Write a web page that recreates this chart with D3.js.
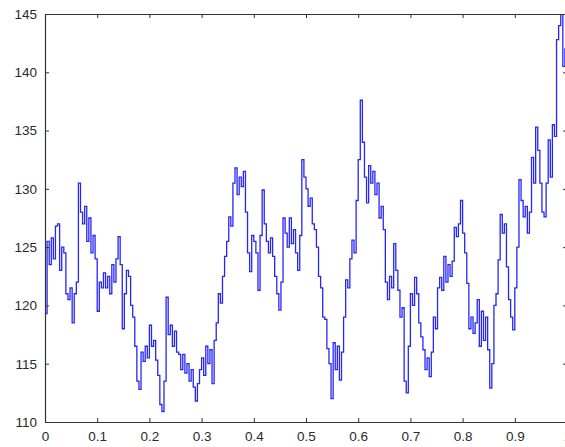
<!DOCTYPE html>
<html>
<head>
<meta charset="utf-8">
<script src="https://cdn.jsdelivr.net/npm/d3@7"></script>
<style>
  body { margin: 0; background: #fff; }
  svg { display: block; }
  .tick text { font-family: "Liberation Sans", Arial, sans-serif; font-size: 13.5px; fill: #2a2a2a; }
</style>
</head>
<body>
<svg id="chart"></svg>
<script>
// canvas and plot box
const width = 565,
      height = 447,
      margin = {top: 14, right: -2, bottom: 25, left: 45};

// axis ranges and ticks
const xDomain = [0, 1];
const yDomain = [110, 145];
const xTicks = [0, 0.1, 0.2, 0.3, 0.4, 0.5, 0.6, 0.7, 0.8, 0.9, 1];
const yTicks = [110, 115, 120, 125, 130, 135, 140, 145];

const values = [
  119.3, 125.5, 123.5, 125.8, 124, 126.8, 127, 123, 125, 124.5, 121, 120.5, 121.5, 118.5, 121, 122, 130.5, 128, 127, 128.5, 125.5, 127.5, 124.5, 126, 124,
  119.5, 122, 121.5, 122.8, 121.5, 122.5, 121, 123.5, 122, 124, 125.9, 123.5, 118, 121, 123, 122.5, 120, 119, 116.5, 113.5, 112.8, 116, 115.2, 116.5, 115.5,
  118.3, 116.5, 117, 115.3, 114, 111.5, 110.9, 113.5, 120.7, 117.5, 118.3, 116.5, 117.8, 116, 115.8, 114.5, 115.8, 114.2, 115, 113.5, 114.5, 113, 111.8, 113.3, 114.5,
  115.5, 114, 116.5, 115, 116.2, 113.3, 117, 118.5, 121, 120.2, 122.5, 124.2, 125.5, 127.6, 126.8, 130.5, 131.8, 129.5, 131, 130.2, 131.5, 128, 124.5, 122.9, 126,
  125.5, 124.5, 121.3, 126, 129.9, 127, 125.5, 124.5, 125.8, 124.2, 122.5, 121, 119.6, 122, 127.5, 126.2, 125, 127.5, 125.3, 126.5, 124.5, 123, 126, 132.5, 131,
  130, 128.5, 129.2, 127, 126.5, 125, 122.5, 121.5, 119, 118.8, 116.3, 115, 112, 116.8, 114.5, 116.5, 113.6, 116, 119, 122.2, 121.5, 124, 125.6, 124.5, 129,
  132.5, 137.6, 134, 131, 128.8, 132, 130.5, 131.5, 129.5, 130.5, 127.5, 128.5, 126.5, 122, 120.5, 122.5, 121.5, 125.3, 123, 121.3, 119, 119.8, 113.5, 112.5, 116.5,
  121, 120, 122.4, 121, 118.5, 117.3, 116.2, 114.5, 115.5, 113.9, 116, 119, 118, 121.5, 122.4, 121.3, 124.2, 122, 123.5, 122.5, 123.8, 126.7, 125.9, 127, 129,
  126.2, 124.5, 121.9, 118, 119, 117.6, 118.5, 120.5, 116.5, 119.5, 117, 119, 116.2, 112.9, 115, 120, 121, 123.9, 127.8, 126.2, 127, 123.3, 120.5, 119, 117.9,
  121.5, 125, 130.8, 129, 127.6, 128.5, 126.2, 128, 132.7, 130.5, 135.3, 133.3, 130.5, 128, 127.6, 130.5, 134.2, 131, 135.5, 134.5, 142.8, 144, 145, 140.5, 142, 141
];
const step = 0.004;

const svg = d3.select("#chart")
    .attr("width", width)
    .attr("height", height);

const x = d3.scaleLinear()
    .domain(xDomain)
    .range([margin.left, width - margin.right]);

const y = d3.scaleLinear()
    .domain(yDomain)
    .range([height - margin.bottom, margin.top]);

// clip to plot box
svg.append("clipPath").attr("id", "plot-clip")
  .append("rect")
    .attr("x", x(0)).attr("y", y(145))
    .attr("width", x(1) - x(0)).attr("height", y(110) - y(145));

// the signal
const line = d3.line()
    .x((d, i) => x(i * step))
    .y(d => y(d))
    .curve(d3.curveStepAfter);

svg.append("path")
    .datum(values)
    .attr("clip-path", "url(#plot-clip)")
    .attr("fill", "none")
    .attr("stroke", "#2626f5")
    .attr("stroke-width", 1.3)
    .attr("d", line);

// matlab style box: ticks inside on all four sides
const axisColor = "#333";
const tickLen = 4;

const axisBottom = svg.append("g")
    .attr("transform", `translate(0,${y(110)})`)
    .call(d3.axisBottom(x).tickValues(xTicks).tickSizeInner(-tickLen).tickSizeOuter(0).tickPadding(9)
        .tickFormat(d => d === 0 ? "0" : d3.format("")(d)));
const axisTop = svg.append("g")
    .attr("transform", `translate(0,${y(145)})`)
    .call(d3.axisTop(x).tickValues(xTicks).tickSizeInner(-tickLen).tickSizeOuter(0).tickFormat(""));
const axisLeft = svg.append("g")
    .attr("transform", `translate(${x(0)},0)`)
    .call(d3.axisLeft(y).tickValues(yTicks).tickSizeInner(-tickLen).tickSizeOuter(0).tickPadding(8));
const axisRight = svg.append("g")
    .attr("transform", `translate(${x(1)},0)`)
    .call(d3.axisRight(y).tickValues(yTicks).tickSizeInner(-tickLen).tickSizeOuter(0).tickFormat(""));

[axisBottom, axisTop, axisLeft, axisRight].forEach(g => {
    g.select(".domain").attr("stroke", axisColor).attr("stroke-width", 1.2);
    g.selectAll(".tick line").attr("stroke", axisColor);
});
</script>
</body>
</html>
